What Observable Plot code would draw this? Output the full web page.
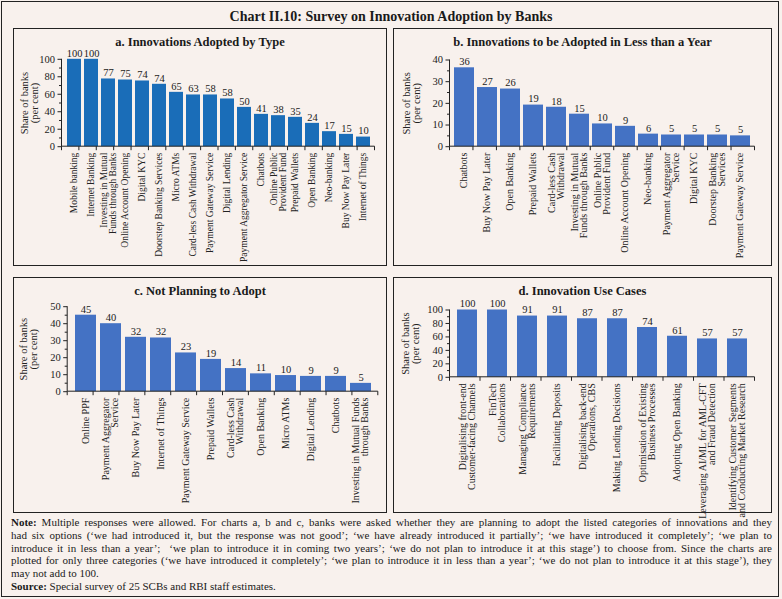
<!DOCTYPE html>
<html><head><meta charset="utf-8">
<script src="https://cdn.jsdelivr.net/npm/d3@7"></script>
<script src="https://cdn.jsdelivr.net/npm/@observablehq/plot@0.6"></script>
<style>
html,body{margin:0;padding:0;background:#f8f1ed;}
#page{position:relative;width:782px;height:599px;overflow:hidden;font-family:"Liberation Serif",serif;color:#1a1a1a;background:#f8f1ed;}
#frame{position:absolute;left:1px;top:1px;width:778px;height:596px;border:1.5px solid #222;box-sizing:border-box;}
#title{position:absolute;left:0;top:9px;width:782px;text-align:center;font-weight:bold;font-size:14px;line-height:16px;}
.panel{position:absolute;border:1.5px solid #222;box-sizing:border-box;}
.panel .ptitle{position:absolute;left:0;right:0;top:6px;text-align:center;font-weight:bold;font-size:12.5px;line-height:14px;}
.panel svg{position:absolute;left:0;top:0;overflow:visible;}
#notes{position:absolute;left:11px;top:516px;width:761px;font-size:11px;line-height:12.8px;}
#notes .j{text-align:justify;text-align-last:justify;}
</style></head>
<body>
<div id="page">
  <div id="frame"></div>
  <div id="title">Chart II.10: Survey on Innovation Adoption by Banks</div>
  <div id="notes">
    <div class="j"><b>Note:</b> Multiple responses were allowed. For charts a, b and c, banks were asked whether they are planning to adopt the listed categories of innovations and they</div>
    <div class="j">had six options (‘we had introduced it, but the response was not good’; ‘we have already introduced it partially’; ‘we have introduced it completely’; ‘we plan to</div>
    <div class="j">introduce it in less than a year’;&nbsp; ‘we plan to introduce it in coming two years’; ‘we do not plan to introduce it at this stage’) to choose from. Since the charts are</div>
    <div class="j">plotted for only three categories (‘we have introduced it completely’; ‘we plan to introduce it in less than a year’; ‘we do not plan to introduce it at this stage’), they</div>
    <div>may not add to 100.</div>
    <div><b>Source:</b> Special survey of 25 SCBs and RBI staff estimates.</div>
  </div>
</div>
<script>
// ---------- DATA ----------
const aCategories = ["Mobile banking","Internet Banking","Investing in Mutual\nFunds through Banks","Online Account Opening","Digital KYC","Doorstep Banking Services","Micro ATMs","Card-less Cash Withdrawal","Payment Gateway Service","Digital Lending","Payment Aggregator Service","Chatbots","Online Public\nProvident Fund","Prepaid Wallets","Open Banking","Neo-banking","Buy Now Pay Later","Internet of Things"];
const aValues = [100,100,77.5,76.3,75.2,71.4,62.2,59.2,59.2,54.6,45,37,35.5,33.6,26.7,17.2,14.1,11];
const aLabels = ["100","100","77","75","74","74","65","63","58","58","50","41","38","35","24","17","15","10"];
const aTicks = [0,20,40,60,80,100];
const aMinorTicks = [10,30,50,70,90];

const bCategories = ["Chatbots","Buy Now Pay Later","Open Banking","Prepaid Wallets","Card-less Cash\nWithdrawal","Investing in Mutual\nFunds through Banks","Online Public\nProvident Fund","Online Account Opening","Neo-banking","Payment Aggregator\nService","Digital KYC","Doorstep Banking\nServices","Payment Gateway Service"];
const bValues = [36.4,27.3,26.6,19.2,18.2,15,10.5,9.4,5.8,5.4,5.4,5.4,5];
const bLabels = ["36","27","26","19","18","15","10","9","6","5","5","5","5"];
const bTicks = [0,10,20,30,40];
const bMinorTicks = [5,15,25,35];

const cCategories = ["Online PPF","Payment Aggregator\nService","Buy Now Pay Later","Internet of Things","Payment Gateway Service","Prepaid Wallets","Card-less Cash\nWithdrawal","Open Banking","Micro ATMs","Digital Lending","Chatbots","Investing in Mutual Funds\nthrough Banks"];
const cValues = [45,40,32,31.6,22.8,19,13.6,10.5,9.5,9,9,4.9];
const cLabels = ["45","40","32","32","23","19","14","11","10","9","9","5"];
const cTicks = [0,10,20,30,40,50];
const cMinorTicks = [5,15,25,35,45];

const dCategories = ["Digitalising front-end\nCustomer-facing Channels","FinTech\nCollaborations","Managing Compliance\nRequirements","Facilitating Deposits","Digitalising back-end\nOperations, CBS","Making Lending Decisions","Optimisation of Existing\nBusiness Processes","Adopting Open Banking","Leveraging AI/ML for AML-CFT\nand Fraud Detection","Identifying Customer Segments\nand Conducting Market Research"];
const dValues = [100,100,91,91,87,87,74,61,57,57];
const dLabels = ["100","100","91","91","87","87","74","61","57","57"];
const dTicks = [0,20,40,60,80,100];
const dMinorTicks = [10,30,50,70,90];

const yAxisLabel = "Share of banks\n(per cent)";

// ---------- LAYOUT ----------
const panels = [
  {title:"a. Innovations Adopted by Type", cats:aCategories, values:aValues, labels:aLabels, ticks:aTicks, minor:aMinorTicks,
   box:[13,28,387,266], axisX:62, plotRight:375, yTopPx:59.3, yZeroPx:146.7, pad:0.2, color:"#1a6db8", labelFont:9.5, ylabDx:-32},
  {title:"b. Innovations to be Adopted in Less than a Year", cats:bCategories, values:bValues, labels:bLabels, ticks:bTicks, minor:bMinorTicks,
   box:[393,28,772,266], axisX:450, plotRight:755, yTopPx:60, yZeroPx:146.7, pad:0.15, color:"#4472c4", labelFont:10, ylabDx:-38.5},
  {title:"c. Not Planning to Adopt", cats:cCategories, values:cValues, labels:cLabels, ticks:cTicks, minor:cMinorTicks,
   box:[13,277,387,513], axisX:67.7, plotRight:378.3, yTopPx:306.7, yZeroPx:391.7, pad:0.16, color:"#4472c4", labelFont:10, ylabDx:-39},
  {title:"d. Innovation Use Cases", cats:dCategories, values:dValues, labels:dLabels, ticks:dTicks, minor:dMinorTicks,
   box:[393,277,772,513], axisX:450, plotRight:755, yTopPx:310, yZeroPx:377.3, pad:0.32, color:"#4472c4", labelFont:10, ylabDx:-39}
];

function axisDecor(cfg) {
  return (index, scales, values, dims) => {
    const n = cfg.cats.length;
    const r0 = dims.marginLeft, r1 = dims.width - dims.marginRight;
    const yf = typeof scales.y === "function" ? scales.y : (scales.scales && scales.scales.y);
    const yb = yf ? yf(0) : dims.height - dims.marginBottom;
    const yt = yf ? yf(cfg.ticks[cfg.ticks.length-1]) : dims.marginTop;
    const g = d3.create("svg:g").attr("stroke","#222").attr("stroke-width",1).attr("fill","none");
    g.append("line").attr("x1",r0).attr("x2",r0).attr("y1",yt).attr("y2",yb);
    g.append("line").attr("x1",r0).attr("x2",r1).attr("y1",yb).attr("y2",yb);
    for (let i = 0; i <= n; i++) {
      const x = r0 + i * (r1 - r0) / n;
      g.append("line").attr("x1",x).attr("x2",x).attr("y1",yb).attr("y2",yb+4);
    }
    return g.node();
  };
}

const page = document.getElementById("page");
for (const cfg of panels) {
  const [x0,y0,x1,y1] = cfg.box;
  const bw = 1.5;
  const div = document.createElement("div");
  div.className = "panel";
  Object.assign(div.style, {left:x0+"px", top:y0+"px", width:(x1-x0)+"px", height:(y1-y0)+"px"});
  const W = x1-x0-2*bw, H = y1-y0-2*bw, ox = x0+bw, oy = y0+bw;
  const data = cfg.cats.map((c,i) => ({name:c, value:cfg.values[i], label:cfg.labels[i]}));
  const ymax = cfg.ticks[cfg.ticks.length-1];
  const chart = Plot.plot({
    width: W, height: H,
    marginLeft: cfg.axisX-ox, marginRight: ox+W-cfg.plotRight,
    marginTop: cfg.yTopPx-oy, marginBottom: oy+H-cfg.yZeroPx,
    style: {background:"transparent", fontFamily:"Liberation Serif, serif", color:"#222", overflow:"visible"},
    x: {domain: cfg.cats, paddingInner: cfg.pad, paddingOuter: cfg.pad/2, axis: null},
    y: {domain: [0, ymax], label: null},
    marks: [
      Plot.barY(data, {x:"name", y:"value", fill: cfg.color}),
      Plot.axisY({ticks: cfg.ticks, tickSize: 4, tickPadding: 3, fontSize: 10.5, tickFormat: d => String(d), label: null, stroke:"#222"}),
      Plot.axisY({ticks: cfg.minor, tickSize: 2.5, tickFormat: () => "", label: null, stroke:"#222"}),
      Plot.text(data, {x:"name", y:"value", text:"label", dy:-6, fontSize:10.5, fill:"#222"}),
      Plot.text(data, {x:"name", y: d => 0, text:"name", rotate:-90, textAnchor:"end", dy:6, fontSize: cfg.labelFont, lineHeight:0.9, fill:"#222"}),
      Plot.text([yAxisLabel], {frameAnchor:"left", y: () => ymax/2, text: d => d, rotate:-90, textAnchor:"middle", dx: cfg.ylabDx, fontSize:10.5, lineHeight:0.95, fill:"#222"}),
      axisDecor(cfg)
    ]
  });
  const t = document.createElement("div");
  t.className = "ptitle";
  t.textContent = cfg.title;
  div.appendChild(chart);
  div.appendChild(t);
  page.appendChild(div);
}
</script>
</body></html>
